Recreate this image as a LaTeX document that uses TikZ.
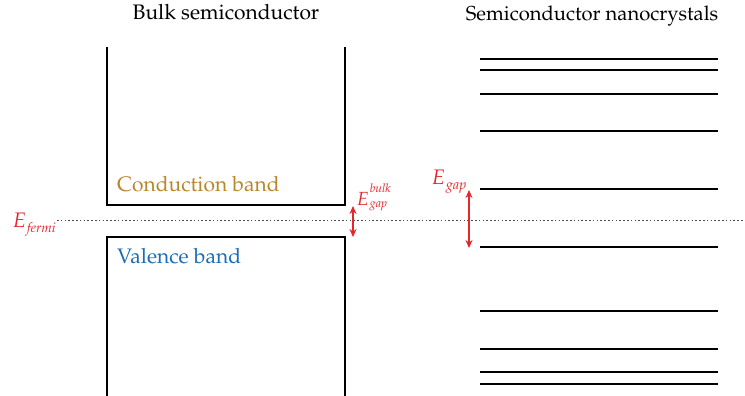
\documentclass[tikz,border=0pt]{standalone}
\usepackage[T1]{fontenc}
\usepackage{mathpazo}
\usetikzlibrary{arrows.meta}
\definecolor{gapred}{HTML}{E5262C}
\definecolor{cbgold}{HTML}{B8862C}
\definecolor{vbblue}{HTML}{1C6DB4}
% italic energy symbol with a lowered (and optionally raised) index
\newcommand{\bigE}[1]{{\fontsize{#1}{#1}\selectfont\itshape E}}
\newcommand{\idx}[2]{{\fontsize{#1}{#1}\selectfont\itshape #2}}
\tikzset{
  band/.style={line width=2.8pt, black},
  level/.style={line width=2.8pt, black},
  fermi/.style={line width=0.8pt, black!70, dash pattern=on 1.6pt off 2.2pt},
  gaparrow/.style={draw=gapred, line width=1.2pt, {Stealth[length=8pt,width=7pt]}-{Stealth[length=8pt,width=7pt]}},
  title/.style={font=\fontsize{21}{25}\selectfont, inner sep=0pt, anchor=base},
  bandlabel/.style={font=\fontsize{21}{25}\selectfont, inner sep=0pt, anchor=base west},
  elabel/.style={text=gapred, inner sep=0pt, anchor=base west}
}
\begin{document}
\begin{tikzpicture}[x=1pt,y=-1pt]
  \useasboundingbox (0,0) rectangle (745,396);

  % titles
  \node[title] (tbulk) at (226,20) {Bulk semiconductor};
  \node[title, font=\fontsize{20.2}{24}\selectfont] (tnano) at (592,21) {Semiconductor nanocrystals};

  % bulk bands
  \draw[band] (107,47) -- (107,205) -- (345,205) -- (345,47);
  \draw[band] (107,396) -- (107,237) -- (345,237) -- (345,396);
  \node[bandlabel, text=cbgold] (cb) at (117,191) {Conduction band};
  \node[bandlabel, text=vbblue] (vb) at (117,263) {Valence band};

  % Fermi level
  \draw[fermi] (57,220) -- (745,220);
  \node[elabel] (ef) at (13,227) {\bigE{21}\kern1pt\raisebox{-5pt}{\idx{13.5}{fermi}}};

  % discrete levels of the nanocrystal
  \foreach \y in {59,70,94,131,189,247,311,349,372,384}
    \draw[level] (480,\y) -- (718,\y);

  % gap arrows
  \coordinate (bgtop) at (353,206);
  \coordinate (bgbot) at (353,237);
  \draw[gaparrow] (bgtop) -- (bgbot);
  \node[elabel] (ebulk) at (357,205)
    {\bigE{19}\kern1pt\rlap{\raisebox{13pt}{\idx{12}{bulk}}}\raisebox{-2pt}{\idx{12}{gap}}};

  \coordinate (ngtop) at (469,190);
  \coordinate (ngbot) at (469,248);
  \draw[gaparrow] (ngtop) -- (ngbot);
  \node[elabel] (egap) at (432,184) {\bigE{21}\kern1pt\raisebox{-5pt}{\idx{14}{gap}}};
\end{tikzpicture}
\end{document}
